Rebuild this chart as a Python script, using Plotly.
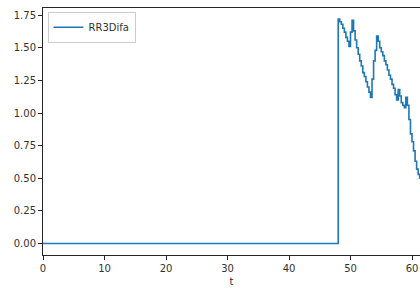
import plotly.graph_objects as go

series_name = "RR3Difa"
t_values = [0, 48.0, 48.25, 48.5, 48.75, 49.0, 49.25, 49.5, 49.75, 50.0, 50.25, 50.5, 50.75,
            51.0, 51.25, 51.5, 51.75, 52.0, 52.25, 52.5, 52.75, 53.0, 53.25, 53.5, 53.75,
            54.0, 54.25, 54.5, 54.75, 55.0, 55.25, 55.5, 55.75, 56.0, 56.25, 56.5, 56.75,
            57.0, 57.25, 57.5, 57.75, 58.0, 58.25, 58.5, 58.75, 59.0, 59.25, 59.5, 59.75,
            60.0, 60.25, 60.5, 60.75, 61.0, 61.25, 61.5]
rr3difa = [0.0, 1.72, 1.70, 1.68, 1.65, 1.62, 1.58, 1.55, 1.51, 1.62, 1.71, 1.63, 1.56,
           1.50, 1.45, 1.40, 1.36, 1.31, 1.28, 1.24, 1.20, 1.16, 1.12, 1.26, 1.40,
           1.48, 1.59, 1.55, 1.50, 1.47, 1.44, 1.40, 1.37, 1.33, 1.29, 1.26, 1.22,
           1.19, 1.14, 1.10, 1.18, 1.13, 1.08, 1.06, 1.04, 1.12, 1.06, 0.95, 0.84,
           0.78, 0.71, 0.63, 0.57, 0.53, 0.50, 0.48]
x_ticks = [0, 10, 20, 30, 40, 50, 60]
y_ticks = [0.0, 0.25, 0.5, 0.75, 1.0, 1.25, 1.5, 1.75]

fig = go.Figure()
fig.add_trace(go.Scatter(x=t_values, y=rr3difa, mode="lines", name=series_name,
                         line=dict(color="#1f77b4", width=1.6, shape="hv"),
                         showlegend=True))

font = dict(family="DejaVu Sans", size=10, color="#333333")
fig.update_layout(
    width=420, height=288,
    margin=dict(l=43, r=0, t=8, b=33),
    paper_bgcolor="white", plot_bgcolor="white",
    font=font,
    showlegend=True,
    legend=dict(x=0.012, y=0.985, xanchor="left", yanchor="top",
                bgcolor="rgba(255,255,255,0.8)", bordercolor="#cccccc", borderwidth=1,
                font=dict(family="DejaVu Sans", size=10, color="#333333")),
)
fig.update_xaxes(range=[0, 61.3], tickvals=x_ticks, ticktext=[str(v) for v in x_ticks],
                 showgrid=False, zeroline=False, showline=True, linecolor="#262626",
                 linewidth=1, mirror=True, ticks="outside", ticklen=4, tickcolor="#262626",
                 tickfont=dict(family="DejaVu Sans", size=10, color="#333333"),
                 title=dict(text="t", font=dict(family="DejaVu Sans", size=10, color="#333333"),
                            standoff=4))
fig.update_yaxes(range=[-0.088, 1.805], tickvals=y_ticks,
                 ticktext=[f"{v:.2f}" for v in y_ticks],
                 tickfont=dict(family="DejaVu Sans", size=10, color="#333333"),
                 showgrid=False, zeroline=False, showline=True, linecolor="#262626",
                 linewidth=1, ticks="outside", ticklen=4, tickcolor="#262626")

fig.write_html("out.html", config={"displayModeBar": False},
               post_script="document.body.style.margin='0';document.body.style.padding='0';document.body.style.overflow='hidden';")
